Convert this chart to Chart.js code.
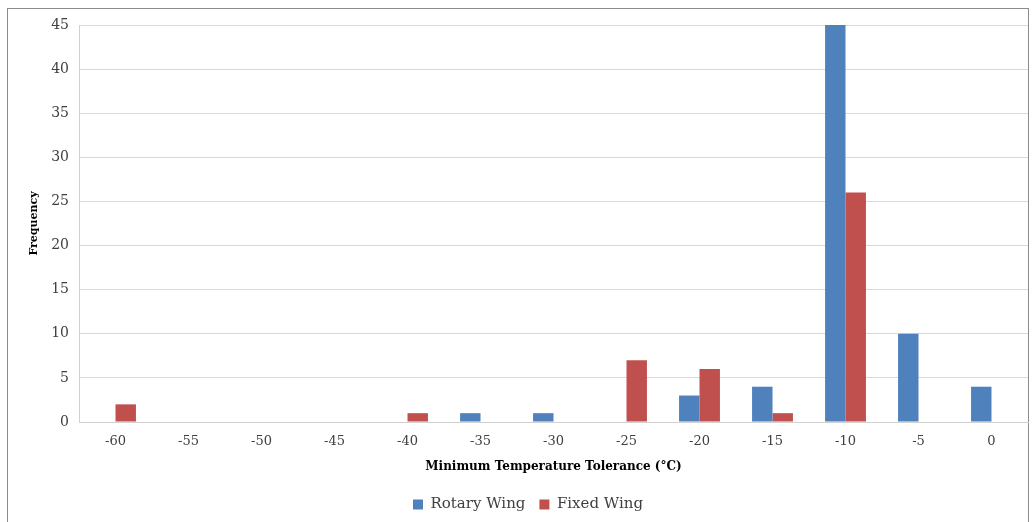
<!DOCTYPE html>
<html>
<head>
<meta charset="utf-8">
<script src="https://cdn.jsdelivr.net/npm/chart.js@4"></script>
<style>
  html, body { margin: 0; padding: 0; background: #fff; }
  #wrap { position: relative; width: 1033px; height: 522px; overflow: hidden; }
  #frame { position: absolute; left: 7px; top: 8px; width: 1022px; height: 530px; border: 1px solid #8c8c8c; box-sizing: border-box; }
  #chart { position: absolute; left: 0; top: 0; }
</style>
</head>
<body>
<div id="wrap">
  <div id="frame"></div>
  <canvas id="chart" width="1033" height="522"></canvas>
</div>
<script>
// ==========================
// Data
// ==========================
const categories = ['-60', '-55', '-50', '-45', '-40', '-35', '-30', '-25', '-20', '-15', '-10', '-5', '0'];
const rotaryWing = [0, 0, 0, 0, 0, 1, 1, 0, 3, 4, 45, 10, 4];
const fixedWing  = [2, 0, 0, 0, 1, 0, 0, 7, 6, 1, 26, 0, 0];
const yTicks = [0, 5, 10, 15, 20, 25, 30, 35, 40, 45];

const FONT = "'DejaVu Serif', 'Liberation Serif', serif";

// ==========================
// Chart
// ==========================
const ctx = document.getElementById('chart').getContext('2d');
new Chart(ctx, {
  type: 'bar',
  data: {
    labels: categories,
    datasets: [
      { label: 'Rotary Wing', data: rotaryWing, backgroundColor: '#4F81BD' },
      { label: 'Fixed Wing', data: fixedWing, backgroundColor: '#C0504D' }
    ]
  },
  options: {
    responsive: false,
    animation: false,
    categoryPercentage: 0.56,
    barPercentage: 1.0,
    layout: { padding: { left: 28, right: 5, top: 25, bottom: 0 } },
    plugins: {
      legend: {
        position: 'bottom',
        labels: {
          font: { family: FONT, size: 15 },
          color: '#404040',
          boxWidth: 10,
          boxHeight: 10,
          padding: 14
        }
      },
      tooltip: { enabled: false }
    },
    scales: {
      x: {
        grid: { display: false, drawTicks: false },
        border: { color: '#d0d0d0' },
        ticks: { font: { family: FONT, size: 13 }, color: '#404040', padding: 12 },
        title: {
          display: true,
          text: 'Minimum Temperature Tolerance (°C)',
          font: { family: FONT, size: 12, weight: 'bold' },
          color: '#000',
          padding: { top: -2, bottom: 9 }
        }
      },
      y: {
        min: 0,
        max: 45,
        afterBuildTicks: axis => { axis.ticks = yTicks.map(v => ({ value: v })); },
        grid: { color: '#d9d9d9', drawTicks: false },
        border: { color: '#d0d0d0' },
        ticks: { font: { family: FONT, size: 14 }, color: '#404040', padding: 10 },
        title: {
          display: true,
          text: 'Frequency',
          font: { family: FONT, size: 11, weight: 'bold' },
          color: '#000',
          padding: { top: 0, bottom: 0 }
        }
      }
    }
  }
});
</script>
</body>
</html>
